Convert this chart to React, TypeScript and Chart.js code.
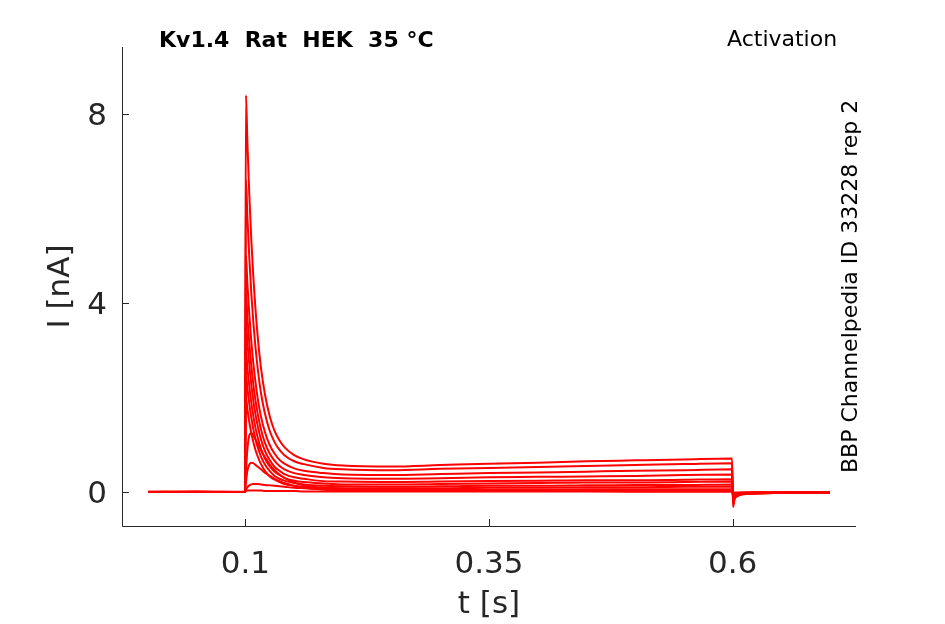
import React, { useRef, useEffect } from 'react';
import { Chart, registerables } from 'chart.js';

Chart.register(...registerables);

// time base of the sweeps (s)
const timeS = [
  0, 0.05, 0.0995,
  0.1005, 0.102, 0.104, 0.106, 0.108, 0.11, 0.113, 0.116, 0.12, 0.125, 0.13, 0.135, 0.14, 0.15, 0.16, 0.18, 0.2,
  0.25, 0.3, 0.35, 0.4, 0.45, 0.5, 0.55, 0.5995,
  0.6005, 0.602, 0.605, 0.61, 0.62, 0.65, 0.7,
];

// current of each sweep (nA)
const sweep1 = [0, 0.01, 0,
  8.4, 7.41, 6.28, 5.35, 4.59, 3.96, 3.2, 2.62, 2.07, 1.6, 1.29, 1.09, 0.95, 0.78, 0.69, 0.6, 0.56,
  0.54, 0.57, 0.6, 0.62, 0.65, 0.67, 0.69, 0.71,
  -0.32, -0.16, -0.09, -0.05, -0.03, -0.02, -0.01];
const sweep2 = [0, 0, 0.01,
  6.6, 5.83, 4.95, 4.22, 3.62, 3.13, 2.54, 2.09, 1.66, 1.29, 1.05, 0.89, 0.78, 0.65, 0.59, 0.51, 0.48,
  0.46, 0.49, 0.51, 0.53, 0.55, 0.57, 0.59, 0.61,
  -0.27, -0.14, -0.08, -0.05, -0.03, -0.02, -0.01];
const sweep3 = [0.01, 0, 0,
  5.0, 4.41, 3.75, 3.2, 2.75, 2.38, 1.93, 1.59, 1.27, 0.99, 0.81, 0.68, 0.6, 0.5, 0.45, 0.4, 0.37,
  0.36, 0.38, 0.4, 0.41, 0.43, 0.45, 0.46, 0.48,
  -0.21, -0.11, -0.07, -0.04, -0.03, -0.02, -0.01];
const sweep4 = [0, 0, 0,
  4.2, 3.7, 3.14, 2.68, 2.3, 1.98, 1.61, 1.32, 1.04, 0.81, 0.66, 0.55, 0.48, 0.4, 0.36, 0.31, 0.29,
  0.28, 0.29, 0.31, 0.32, 0.33, 0.34, 0.36, 0.37,
  -0.16, -0.09, -0.06, -0.04, -0.03, -0.02, -0.01];
const sweep5 = [0, 0.01, 0,
  3.6, 3.17, 2.69, 2.28, 1.95, 1.68, 1.36, 1.11, 0.87, 0.67, 0.53, 0.45, 0.38, 0.31, 0.28, 0.23, 0.22,
  0.21, 0.22, 0.23, 0.24, 0.25, 0.25, 0.26, 0.27,
  -0.12, -0.07, -0.05, -0.03, -0.02, -0.02, -0.01];
const sweep6 = [0, 0, 0,
  3.0, 2.64, 2.23, 1.9, 1.62, 1.39, 1.12, 0.91, 0.71, 0.54, 0.43, 0.36, 0.3, 0.24, 0.21, 0.18, 0.16,
  0.16, 0.17, 0.18, 0.19, 0.2, 0.2, 0.21, 0.22,
  -0.1, -0.06, -0.04, -0.03, -0.02, -0.02, -0.01];
const sweep7 = [0, 0, 0,
  2.5, 2.2, 1.86, 1.58, 1.34, 1.15, 0.92, 0.75, 0.58, 0.44, 0.34, 0.28, 0.24, 0.19, 0.16, 0.13, 0.12,
  0.11, 0.12, 0.13, 0.13, 0.14, 0.15, 0.15, 0.16,
  -0.07, -0.05, -0.03, -0.03, -0.02, -0.01, -0.01];
const sweep8 = [0, 0, 0,
  2.0, 1.76, 1.48, 1.25, 1.07, 0.91, 0.73, 0.59, 0.45, 0.33, 0.26, 0.21, 0.17, 0.13, 0.11, 0.09, 0.08,
  0.08, 0.08, 0.09, 0.09, 0.1, 0.1, 0.11, 0.11,
  -0.05, -0.04, -0.03, -0.02, -0.02, -0.01, -0.01];
const sweep9 = [0, 0, 0,
  0.4, 0.9, 1.2, 1.25, 1.2, 1.12, 1.0, 0.88, 0.74, 0.58, 0.46, 0.37, 0.3, 0.2, 0.14, 0.09, 0.07,
  0.05, 0.05, 0.05, 0.05, 0.06, 0.06, 0.06, 0.06,
  -0.03, -0.02, -0.02, -0.02, -0.01, -0.01, -0.01];
const sweep10 = [0, 0, 0,
  0.2, 0.45, 0.58, 0.62, 0.61, 0.58, 0.53, 0.48, 0.41, 0.34, 0.28, 0.23, 0.19, 0.13, 0.09, 0.05, 0.04,
  0.03, 0.03, 0.03, 0.03, 0.03, 0.03, 0.03, 0.03,
  -0.03, -0.02, -0.02, -0.02, -0.01, -0.01, -0.01];
const sweep11 = [0, 0, 0,
  0.05, 0.1, 0.14, 0.16, 0.17, 0.17, 0.17, 0.16, 0.15, 0.14, 0.13, 0.12, 0.11, 0.09, 0.08, 0.06, 0.04,
  0.03, 0.02, 0.02, 0.02, 0.02, 0.01, 0.01, 0.01,
  -0.02, -0.02, -0.02, -0.01, -0.01, -0.01, -0.01];
const sweep12 = [0, 0, 0,
  0.02, 0.03, 0.03, 0.03, 0.03, 0.03, 0.03, 0.03, 0.02, 0.02, 0.02, 0.02, 0.02, 0.02, 0.01, 0.01, 0.01,
  0.01, 0.01, 0.01, 0.01, 0.01, 0.01, 0.01, 0.01,
  -0.02, -0.01, -0.01, -0.01, -0.01, -0.01, -0.01];

const sweeps = [sweep1, sweep2, sweep3, sweep4, sweep5, sweep6, sweep7, sweep8, sweep9, sweep10, sweep11, sweep12];

const xTicks = [0.1, 0.35, 0.6];
const yTicks = [0, 4, 8];

const FONT = "'DejaVu Sans', sans-serif";
const AXIS = '#262626';

// matlab style axes: left + bottom lines, ticks pointing inwards
const axesPlugin = {
  id: 'matlabAxes',
  afterDraw(chart: Chart) {
    const { ctx, chartArea, scales } = chart;
    const { left, right, top, bottom } = chartArea;
    ctx.save();
    ctx.strokeStyle = AXIS;
    ctx.lineWidth = 1;
    ctx.beginPath();
    ctx.moveTo(left + 0.5, top);
    ctx.lineTo(left + 0.5, bottom + 0.5);
    ctx.lineTo(right, bottom + 0.5);
    xTicks.forEach(v => {
      const px = Math.round(scales.x.getPixelForValue(v)) + 0.5;
      ctx.moveTo(px, bottom);
      ctx.lineTo(px, bottom - 7);
    });
    yTicks.forEach(v => {
      const py = Math.round(scales.y.getPixelForValue(v)) + 0.5;
      ctx.moveTo(left, py);
      ctx.lineTo(left + 7, py);
    });
    ctx.stroke();
    ctx.restore();
  },
};

const TraceChart: React.FC = () => {
  const canvasRef = useRef<HTMLCanvasElement>(null);
  const chartRef = useRef<Chart | null>(null);

  useEffect(() => {
    if (!canvasRef.current) return;
    if (chartRef.current) chartRef.current.destroy();

    Chart.defaults.font.family = FONT;

    chartRef.current = new Chart(canvasRef.current, {
      type: 'line',
      data: {
        datasets: sweeps.map((s, i) => ({
          label: 'sweep ' + (i + 1),
          data: timeS.map((t, j) => ({ x: t, y: s[j] })),
          borderColor: 'rgb(255, 0, 0)',
          borderWidth: 2,
          pointRadius: 0,
          fill: false,
          cubicInterpolationMode: 'monotone' as const,
        })),
      },
      options: {
        animation: false,
        responsive: true,
        maintainAspectRatio: false,
        layout: { padding: { top: 47, right: 89, left: 0, bottom: 0 } },
        plugins: {
          legend: { display: false },
          tooltip: { enabled: false },
        },
        scales: {
          x: {
            type: 'linear',
            min: -0.0267,
            max: 0.7267,
            afterBuildTicks: (s: any) => { s.ticks = xTicks.map(v => ({ value: v })); },
            afterFit: (s: any) => { s.height = 98; },
            grid: { display: false, drawTicks: false },
            border: { display: false },
            ticks: {
              font: { size: 31 },
              color: AXIS,
              padding: 20,
              maxRotation: 0,
              autoSkip: false,
              callback: (v: any) => String(v),
            },
            title: {
              display: true,
              text: 't [s]',
              font: { size: 31 },
              color: AXIS,
              padding: { top: 0, bottom: 0 },
            },
          },
          y: {
            type: 'linear',
            min: -0.72,
            max: 9.42,
            afterBuildTicks: (s: any) => { s.ticks = yTicks.map(v => ({ value: v })); },
            afterFit: (s: any) => { s.width = 122; },
            grid: { display: false, drawTicks: false },
            border: { display: false },
            ticks: {
              font: { size: 31 },
              color: AXIS,
              padding: 15,
              labelOffset: 3,
              callback: (v: any) => String(v),
            },
            title: {
              display: true,
              text: 'I [nA]',
              font: { size: 31 },
              color: AXIS,
              padding: { top: 42, bottom: 0 },
            },
          },
        },
      },
      plugins: [axesPlugin],
    });

    return () => {
      if (chartRef.current) {
        chartRef.current.destroy();
        chartRef.current = null;
      }
    };
  }, []);

  const label: React.CSSProperties = {
    position: 'absolute',
    fontFamily: FONT,
    fontSize: '22px',
    lineHeight: '22px',
    whiteSpace: 'pre',
    color: '#000',
  };

  return (
    <div style={{ position: 'absolute', left: 0, top: 0, width: '945px', height: '624px', background: '#fff' }}>
      <canvas ref={canvasRef} />
      <div style={{ ...label, left: '159px', top: '29px', fontWeight: 'bold' }}>Kv1.4  Rat  HEK  35 °C</div>
      <div style={{ ...label, left: '727px', top: '28px' }}>Activation</div>
      <div
        style={{
          ...label,
          left: '839px',
          top: '473px',
          transform: 'rotate(-90deg)',
          transformOrigin: 'left top',
        }}
      >
        BBP Channelpedia ID 33228 rep 2
      </div>
    </div>
  );
};

export default function App() {
  return <TraceChart />;
}
